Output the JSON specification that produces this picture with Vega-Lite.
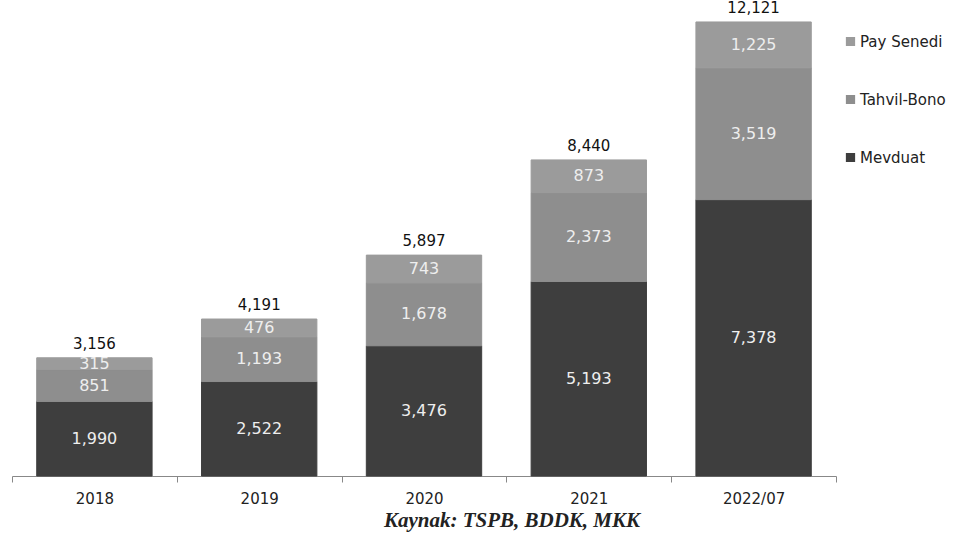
{
  "$schema": "https://vega.github.io/schema/vega-lite/v6.json",
  "width": 824,
  "height": 454,
  "autosize": {"type": "none"},
  "padding": {"left": 12, "top": 22, "right": 142, "bottom": 69},
  "background": "white",
  "config": {"view": {"stroke": null}},
  "title": {
    "text": "Kaynak: TSPB, BDDK, MKK",
    "orient": "bottom",
    "font": "Liberation Serif",
    "fontStyle": "italic",
    "fontWeight": "bold",
    "fontSize": 21,
    "color": "#222",
    "anchor": "middle",
    "dx": 88,
    "offset": 4
  },
  "datasets": {
    "segments": [
      {"yil": "2018", "tur": "Mevduat", "deger": 1990},
      {"yil": "2018", "tur": "Tahvil-Bono", "deger": 851},
      {"yil": "2018", "tur": "Pay Senedi", "deger": 315},
      {"yil": "2019", "tur": "Mevduat", "deger": 2522},
      {"yil": "2019", "tur": "Tahvil-Bono", "deger": 1193},
      {"yil": "2019", "tur": "Pay Senedi", "deger": 476},
      {"yil": "2020", "tur": "Mevduat", "deger": 3476},
      {"yil": "2020", "tur": "Tahvil-Bono", "deger": 1678},
      {"yil": "2020", "tur": "Pay Senedi", "deger": 743},
      {"yil": "2021", "tur": "Mevduat", "deger": 5193},
      {"yil": "2021", "tur": "Tahvil-Bono", "deger": 2373},
      {"yil": "2021", "tur": "Pay Senedi", "deger": 873},
      {"yil": "2022/07", "tur": "Mevduat", "deger": 7378},
      {"yil": "2022/07", "tur": "Tahvil-Bono", "deger": 3519},
      {"yil": "2022/07", "tur": "Pay Senedi", "deger": 1225}
    ],
    "totals": [
      {"yil": "2018", "toplam": 3156},
      {"yil": "2019", "toplam": 4191},
      {"yil": "2020", "toplam": 5897},
      {"yil": "2021", "toplam": 8440},
      {"yil": "2022/07", "toplam": 12121}
    ]
  },
  "encoding": {
    "x": {
      "field": "yil",
      "type": "nominal",
      "sort": null,
      "scale": {"paddingInner": 0, "paddingOuter": 0},
      "axis": {
        "title": null,
        "labelAngle": 0,
        "labelFont": "DejaVu Sans",
        "labelFontSize": 15,
        "labelColor": "#222",
        "labelPadding": 9,
        "tickBand": "extent",
        "tickSize": 6,
        "tickColor": "#888",
        "domainColor": "#888",
        "grid": false
      }
    }
  },
  "layer": [
    {
      "data": {"name": "segments"},
      "transform": [
        {"calculate": "indexof(['Mevduat','Tahvil-Bono','Pay Senedi'], datum.tur)", "as": "sira"},
        {"stack": "deger", "groupby": ["yil"], "sort": [{"field": "sira", "order": "ascending"}], "as": ["y0", "y1"]},
        {"calculate": "(datum.y0 + datum.y1) / 2", "as": "orta"}
      ],
      "layer": [
        {
          "mark": {"type": "bar", "width": {"band": 0.7}, "strokeWidth": 1},
          "encoding": {
            "y": {
              "field": "y0",
              "type": "quantitative",
              "scale": {"domain": [0, 12121], "nice": false},
              "axis": null
            },
            "y2": {"field": "y1"},
            "color": {
              "field": "tur",
              "type": "nominal",
              "scale": {
                "domain": ["Pay Senedi", "Tahvil-Bono", "Mevduat"],
                "range": ["#9b9b9b", "#8e8e8e", "#3e3e3e"]
              },
              "legend": {
                "title": null,
                "orient": "none",
                "legendX": 831,
                "legendY": 12,
                "symbolType": "square",
                "symbolSize": 60,
                "labelFont": "DejaVu Sans",
                "labelFontSize": 15,
                "labelColor": "#222",
                "labelOffset": 2,
                "rowPadding": 42
              }
            },
            "stroke": {
              "field": "tur",
              "type": "nominal",
              "scale": {
                "domain": ["Pay Senedi", "Tahvil-Bono", "Mevduat"],
                "range": ["#9b9b9b", "#8e8e8e", "#3e3e3e"]
              },
              "legend": null
            }
          }
        },
        {
          "mark": {
            "type": "text",
            "font": "DejaVu Sans",
            "fontSize": 16,
            "color": "#eeeeee",
            "baseline": "middle"
          },
          "encoding": {
            "y": {"field": "orta", "type": "quantitative"},
            "text": {"field": "deger", "type": "quantitative", "format": ","}
          }
        }
      ]
    },
    {
      "data": {"name": "totals"},
      "mark": {
        "type": "text",
        "font": "DejaVu Sans",
        "fontSize": 15,
        "color": "#111",
        "baseline": "bottom",
        "dy": -6
      },
      "encoding": {
        "y": {"field": "toplam", "type": "quantitative"},
        "text": {"field": "toplam", "type": "quantitative", "format": ","}
      }
    }
  ]
}
